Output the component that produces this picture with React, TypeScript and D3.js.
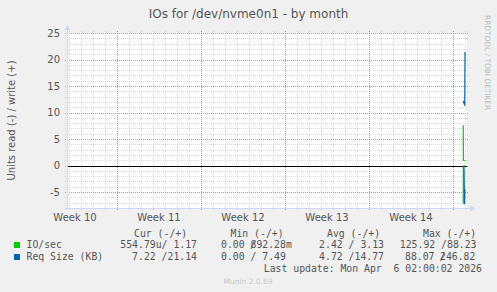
import React from "react";
import * as d3 from "d3";

// ---------- data ----------
const title = "IOs for /dev/nvme0n1 - by month";
const yLabel = "Units read (-) / write (+)";
const yTicks = [-5, 0, 5, 10, 15, 20, 25];
const yDomain = [-8, 25];
const xDomain = ["2026-03-04T20:00:00Z", "2026-04-07T04:00:00Z"];
const weekStarts = ["2026-03-09T00:00:00Z", "2026-03-16T00:00:00Z", "2026-03-23T00:00:00Z", "2026-03-30T00:00:00Z", "2026-04-06T00:00:00Z"];
const weekLabels = ["Week 10", "Week 11", "Week 12", "Week 13", "Week 14"];
const weekLabelTimes = ["2026-03-05T12:00:00Z", "2026-03-12T12:00:00Z", "2026-03-19T12:00:00Z", "2026-03-26T12:00:00Z", "2026-04-02T12:00:00Z"];

const ioWriteTimes = ["2026-04-06T20:30:00Z", "2026-04-06T20:45:00Z", "2026-04-07T00:00:00Z"];
const ioWrite = [7.6, 1.0, 0.9];
const ioReadTimes = ["2026-04-06T20:30:00Z", "2026-04-06T20:45:00Z", "2026-04-07T00:00:00Z"];
const ioRead = [-7.2, -0.1, -0.05];
const sizeWriteTimes = ["2026-04-06T20:30:00Z", "2026-04-06T23:30:00Z", "2026-04-07T00:00:00Z"];
const sizeWrite = [12.2, 11.3, 21.4];
const sizeReadTimes = ["2026-04-06T22:00:00Z", "2026-04-06T23:00:00Z", "2026-04-07T00:00:00Z"];
const sizeRead = [-0.1, -7.3, -4.5];

const seriesNames = ["IO/sec", "Req Size (KB)"];
const seriesColors = ["#00CC00", "#0066B3"];
const legendHeaders = ["Cur (-/+)", "Min (-/+)", "Avg (-/+)", "Max (-/+)"];
const curValues = ["554.79u/ 1.17", "7.22 /21.14"];
const avgValues = ["2.42 / 3.13", "4.72 /14.77"];
const lastUpdate = "Last update: Mon Apr  6 02:00:02 2026";
const version = "Munin 2.0.69";
const watermark = "RRDTOOL / TOBI OETIKER";

// ---------- layout ----------
const W = 497, H = 292;
const X0 = 67, X1 = 467, Y0 = 208, Y1 = 33;
const FONT = "DejaVu Sans, sans-serif";
const MONO = "DejaVu Sans Mono, monospace";
const TXT = "#555555";

const T = (p: any) => <text xmlSpace="preserve" style={{ whiteSpace: "pre" }} {...p} />;

export default function App() {
  const x = d3.scaleUtc().domain(xDomain.map((d) => new Date(d))).range([X0, X1]);
  const y = d3.scaleLinear().domain(yDomain).range([Y0, Y1]);

  const minorY = d3.range(Math.ceil(yDomain[0]), Math.floor(yDomain[1]) + 1).filter((v) => v % 5 !== 0);
  const majorY = yTicks;
  const days = d3.utcDay.range(new Date(xDomain[0]), new Date(xDomain[1]));
  const minorX = days.filter((d) => d.getUTCDay() !== 1);
  const majorX = weekStarts.map((d) => new Date(d));

  const line = d3
    .line<[Date, number]>()
    .x((d) => x(d[0]))
    .y((d) => y(d[1]));
  const mk = (ts: string[], vs: number[]) => ts.map((t, i) => [new Date(t), vs[i]] as [Date, number]);

  const series = [
    { d: mk(ioWriteTimes, ioWrite), c: seriesColors[0] },
    { d: mk(ioReadTimes, ioRead), c: seriesColors[0] },
    { d: mk(sizeWriteTimes, sizeWrite), c: seriesColors[1] },
    { d: mk(sizeReadTimes, sizeRead), c: seriesColors[1] },
  ];

  const py = (v: number) => Math.round(y(v)) + 0.5;
  const px = (d: Date) => Math.round(x(d)) + 0.5;

  const rowY = [248, 260];
  const LF = 9.8;
  return (
    <svg width={W} height={H} style={{ position: "absolute", left: 0, top: 0 }} xmlns="http://www.w3.org/2000/svg">
      <rect x={0} y={0} width={W} height={H} fill="#F0F0F0" />
      <rect x={X0} y={Y1} width={X1 - X0} height={Y0 - Y1} fill="#FFFFFF" />

      {/* minor grid */}
      <g stroke="rgba(143,143,143,0.32)" strokeWidth={1} strokeDasharray="1,1">
        {minorY.map((v) => (
          <line key={"my" + v} x1={X0 - 2} x2={X1 + 2} y1={py(v)} y2={py(v)} />
        ))}
        {minorX.map((d, i) => (
          <line key={"mx" + i} x1={px(d)} x2={px(d)} y1={Y0 + 2} y2={Y1 - 2} />
        ))}
      </g>
      {/* major grid */}
      <g stroke="rgba(230,70,70,0.65)" strokeWidth={1} strokeDasharray="1,1">
        {majorY.map((v) => (
          <line key={"My" + v} x1={X0 - 2} x2={X1 + 2} y1={py(v)} y2={py(v)} />
        ))}
        {majorX.map((d, i) => (
          <line key={"Mx" + i} x1={px(d)} x2={px(d)} y1={Y0 + 2} y2={Y1 - 2} />
        ))}
      </g>

      {/* zero rule */}
      <line x1={X0} x2={X1} y1={py(0)} y2={py(0)} stroke="#000000" strokeWidth={1.2} />

      {/* series */}
      {series.map((s, i) => (
        <path key={"s" + i} d={line(s.d) || ""} fill="none" stroke={s.c} strokeWidth={1.2} />
      ))}

      {/* axes */}
      <g stroke="#CFD6F8" strokeWidth={1}>
        <line x1={X0 + 0.5} x2={X0 + 0.5} y1={Y0 + 2} y2={Y1 - 4} />
        <line x1={X0 - 2} x2={X1 + 4} y1={Y0 + 0.5} y2={Y0 + 0.5} />
      </g>
      <path d={`M${X0 - 2.5},${Y1 - 3} L${X0 + 3.5},${Y1 - 3} L${X0 + 0.5},${Y1 - 8} Z`} fill="#CFD6F8" />
      <path d={`M${X1 + 3},${Y0 - 2.5} L${X1 + 3},${Y0 + 3.5} L${X1 + 8},${Y0 + 0.5} Z`} fill="#CFD6F8" />

      {/* title */}
      <text x={248.5} y={18} textAnchor="middle" fontFamily={FONT} fontSize={12} fill={TXT}>
        {title}
      </text>
      {/* y label */}
      <text transform={`translate(14.5,${(Y0 + Y1) / 2}) rotate(-90)`} textAnchor="middle" fontFamily={FONT} fontSize={10} fill={TXT}>
        {yLabel}
      </text>
      {/* y ticks */}
      {yTicks.map((v) => (
        <text key={"yt" + v} x={60} y={y(v) + 3.5} textAnchor="end" fontFamily={FONT} fontSize={10} fill={TXT}>
          {v}
        </text>
      ))}
      {/* x ticks */}
      {weekLabels.map((l, i) => (
        <text key={"xt" + i} x={x(new Date(weekLabelTimes[i]))} y={221} textAnchor="middle" fontFamily={FONT} fontSize={10} fill={TXT}>
          {l}
        </text>
      ))}
      {/* watermark */}
      <text transform="translate(485,15) rotate(90)" fontFamily={FONT} fontSize={7.4} fill="#BBBBBB">
        {watermark}
      </text>

      {/* legend */}
      <g fontFamily={MONO} fontSize={LF} fill={TXT}>
        <T x={134} y={236.5}>{legendHeaders[0]}</T>
        <T x={230.5} y={236.5}>{legendHeaders[1]}</T>
        <T x={327} y={236.5}>{legendHeaders[2]}</T>
        <T x={423} y={236.5}>{legendHeaders[3]}</T>

        {seriesNames.map((n, i) => (
          <g key={"lg" + i}>
            <rect x={14} y={rowY[i] - 6} width={6} height={6} fill={seriesColors[i]} />
            <T x={26.5} y={rowY[i]}>{n}</T>
            <T x={197} y={rowY[i]} textAnchor="end">{curValues[i]}</T>
            <T x={384} y={rowY[i]} textAnchor="end">{avgValues[i]}</T>
          </g>
        ))}
        {/* min column */}
        <T x={221} y={rowY[0]}>0.00</T>
        <T x={250} y={rowY[0]}>/</T>
        <T x={250.5} y={rowY[0]}>892.28m</T>
        <T x={221} y={rowY[1]}>0.00 / 7.49</T>
        {/* max column */}
        <T x={476.5} y={rowY[0]} textAnchor="end">125.92 /88.23</T>
        <T x={405} y={rowY[1]}>88.07</T>
        <T x={439.5} y={rowY[1]}>/</T>
        <T x={440} y={rowY[1]}>246.82</T>

        <T x={482} y={272} textAnchor="end">{lastUpdate}</T>
      </g>
      <text x={248} y={283.5} textAnchor="middle" fontFamily={FONT} fontSize={7.5} fill="#C8C8C8">
        {version}
      </text>
    </svg>
  );
}
